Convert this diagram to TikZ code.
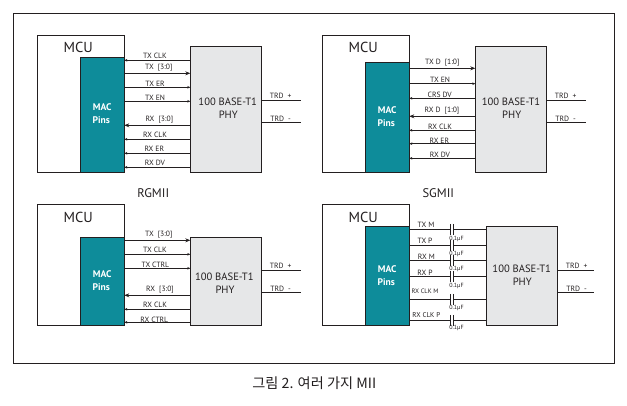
\documentclass[tikz,border=0pt]{standalone}
\usepackage{fontspec}
\setmainfont{PT Sans}
\newfontfamily\krfont{Noto Sans CJK KR}
\usetikzlibrary{arrows.meta}
\definecolor{macteal}{HTML}{0E8C9A}
\definecolor{phygray}{HTML}{E6E7E8}
\definecolor{ink}{HTML}{231F20}
\tikzset{
  box/.style={draw=ink,line width=.8pt,rectangle,inner sep=0pt,outer sep=0pt,anchor=north west},
  mcubox/.style={box,fill=white},
  macbox/.style={box,fill=macteal},
  phybox/.style={box,fill=phygray},
  wire/.style={draw=ink,line width=.8pt},
  small/.style={wire,-{Stealth[length=3pt,width=2.6pt]}},
  smallback/.style={wire,{Stealth[length=3pt,width=2.6pt]}-},
  bus/.style={wire,-{Stealth[length=5pt,width=4pt]}},
  busback/.style={wire,{Stealth[length=5pt,width=4pt]}-},
  sig/.style={font=\fontsize{7.6}{8}\selectfont,text=ink,inner sep=0pt},
  title/.style={font=\fontsize{14.5}{15}\selectfont,text=ink,inner sep=0pt},
  nametext/.style={font=\fontsize{12.5}{13}\selectfont,text=ink,inner sep=0pt},
  mactext/.style={font=\fontsize{9.6}{10}\selectfont\bfseries,text=white,inner sep=0pt},
  phytext/.style={font=\fontsize{10.6}{11}\selectfont,text=ink,inner sep=0pt},
  captext/.style={font=\fontsize{6}{6}\selectfont,text=ink,inner sep=0pt},
  plate/.style={draw=ink,line width=.8pt},
  gapfill/.style={fill=white,inner sep=0pt,outer sep=0pt,minimum width=3.4pt,minimum height=3pt},
}
\newcommand{\panel}[7]{%
  \node[mcubox,minimum width=87pt,minimum height={#5-#3 pt}] (mcu#1) at (#2,#3) {};
  \node[macbox,minimum width=44pt,minimum height={#5-#4 pt}] (mac#1) at (#2+43,#4) {};
  \node[phybox,minimum width=71pt,minimum height={#5-#7 pt}] (phy#1) at (#6,#7) {};
}
\newcommand{\sgn}[7]{%
  \draw[#3] (mac#1.east |- 0,#2) -- (phy#1.west |- 0,#2);
  \node[sig] (#4) at (#6,#7) {#5};
}
\newcommand{\trd}[4]{%
  \coordinate (e#1a) at (#2,#3);
  \coordinate (e#1b) at (#2,#4);
  \draw[wire] (phy#1.east |- e#1a) -- (e#1a);
  \draw[wire] (phy#1.east |- e#1b) -- (e#1b);
}
\newcommand{\capa}[4]{%
  \node[gapfill] (cap#1) at (451.7,#2) {};
  \draw[plate] (450,#2-5.5) -- (450,#2+5.5);
  \draw[plate] (453.4,#2-5.5) -- (453.4,#2+5.5);
  \node[captext] (capl#1) at (#3,#4) {0.1µF};
}
\begin{document}
\begin{tikzpicture}[x=1pt,y=-1pt]
\useasboundingbox (0,0) rectangle (627,405);
\node[box,minimum width=601pt,minimum height=350pt] (frame) at (13,13) {};

% ---------- RGMII
\panel{A}{37.3}{35.3}{57.3}{172.3}{190.3}{46.3}
\node[title] (mcuAt) at (78.3,47) {MCU};
\node[mactext] (macAa) at (102.2,107) {MAC};
\node[mactext] (macAb) at (101.3,120) {Pins};
\node[phytext] (phyAa) at (227.7,102) {100 BASE-T1};
\node[phytext] (phyAb) at (228.3,115) {PHY};
\sgn{A}{60.3}{smallback}{sA1}{TX CLK}{155}{56}
\sgn{A}{73.3}{bus}{sA2}{TX\ \ [3:0]}{158.7}{68}
\sgn{A}{87.3}{small}{sA3}{TX ER}{155}{84}
\sgn{A}{101.3}{small}{sA4}{TX EN}{155}{98}
\sgn{A}{125.3}{busback}{sA5}{RX\ \ [3:0]}{159.3}{120}
\sgn{A}{139.3}{smallback}{sA6}{RX CLK}{155}{135}
\sgn{A}{153.3}{smallback}{sA7}{RX ER}{154.3}{149}
\sgn{A}{167.3}{smallback}{sA8}{RX DV}{155}{163}
\trd{A}{300.7}{100.3}{122.3}
\node[sig] (tA1) at (280.7,96.3) {TRD\ \ +};
\node[sig] (tA2) at (280.7,119.3) {TRD\ \ -};
\node[nametext] (nameA) at (153.3,192.7) {RGMII};

% ---------- SGMII
\panel{B}{322.3}{35.3}{62.3}{172.3}{475.3}{46.3}
\node[title] (mcuBt) at (363.3,47) {MCU};
\node[mactext] (macBa) at (387.2,110) {MAC};
\node[mactext] (macBb) at (386.3,123) {Pins};
\node[phytext] (phyBa) at (511,102) {100 BASE-T1};
\node[phytext] (phyBb) at (511.7,115) {PHY};
\sgn{B}{68.3}{bus}{sB1}{TX D\ \ [1:0]}{442.3}{63}
\sgn{B}{83.7}{small}{sB2}{TX EN}{440}{80}
\sgn{B}{98.3}{smallback}{sB3}{CRS DV}{439.7}{95}
\sgn{B}{116.3}{busback}{sB4}{RX D\ \ [1:0]}{442}{111}
\sgn{B}{130.3}{smallback}{sB5}{RX CLK}{440}{127}
\sgn{B}{143.7}{smallback}{sB6}{RX ER}{439.3}{140.7}
\sgn{B}{158.3}{smallback}{sB7}{RX DV}{440}{154.7}
\trd{B}{586}{100.3}{122.3}
\node[sig] (tB1) at (565.7,96.3) {TRD\ \ +};
\node[sig] (tB2) at (565.7,119.3) {TRD\ \ -};
\node[nametext] (nameB) at (438.3,192.7) {SGMII};

% ---------- third panel
\panel{C}{37.3}{204.3}{237.3}{325}{190.3}{237.3}
\node[title] (mcuCt) at (78.3,217) {MCU};
\node[mactext] (macCa) at (102.2,274) {MAC};
\node[mactext] (macCb) at (101.3,287.5) {Pins};
\node[phytext] (phyCa) at (224.3,277) {100 BASE-T1};
\node[phytext] (phyCb) at (225,290) {PHY};
\sgn{C}{240.3}{bus}{sC1}{TX\ \ [3:0]}{158.7}{235}
\sgn{C}{254.3}{small}{sC2}{TX CLK}{155}{250}
\sgn{C}{268.3}{small}{sC3}{TX CTRL}{155.3}{265}
\sgn{C}{295.3}{busback}{sC4}{RX\ \ [3:0]}{160}{290}
\sgn{C}{309.3}{smallback}{sC5}{RX CLK}{155}{305}
\sgn{C}{322.3}{smallback}{sC6}{RX CTRL}{154.3}{319.7}
\trd{C}{300.7}{270.3}{292.3}
\node[sig] (tC1) at (280.7,266.3) {TRD\ \ +};
\node[sig] (tC2) at (280.7,289.3) {TRD\ \ -};

% ---------- fourth panel
\panel{D}{322.3}{204.3}{226.3}{325}{486.3}{226.3}
\node[title] (mcuDt) at (363.3,217) {MCU};
\node[mactext] (macDa) at (387.2,269) {MAC};
\node[mactext] (macDb) at (386.3,282) {Pins};
\node[phytext] (phyDa) at (521.7,269) {100 BASE-T1};
\node[phytext] (phyDb) at (522.3,282) {PHY};
\sgn{D}{229.3}{wire}{sD1}{TX M}{426}{225}
\sgn{D}{245.3}{wire}{sD2}{TX P}{425}{240.7}
\sgn{D}{260.3}{wire}{sD3}{RX M}{426.3}{257}
\sgn{D}{276.3}{wire}{sD4}{RX P}{425}{273}
\sgn{D}{299.3}{wire}{sD5}{\fontsize{6.4}{7}\selectfont RX CLK M}{425}{291.3}
\sgn{D}{320.3}{wire}{sD6}{\fontsize{7}{7}\selectfont RX CLK P}{426.3}{315}
\capa{1}{229.3}{456.5}{239}
\capa{2}{245.3}{456.5}{253.7}
\capa{3}{260.3}{456.5}{269}
\capa{4}{276.3}{456.5}{286.3}
\capa{5}{299.3}{456.5}{307.7}
\capa{6}{320.3}{456.5}{328.3}
\trd{D}{594}{270.3}{292.3}
\node[sig] (tD1) at (576.7,266.3) {TRD\ \ +};
\node[sig] (tD2) at (576.7,289.3) {TRD\ \ -};

\node[inner sep=0pt,text=ink,font=\krfont\fontsize{14.2}{16}\selectfont] (caption) at (314.3,382.7) {그림 2. 여러 가지 MII};
\end{tikzpicture}
\end{document}
